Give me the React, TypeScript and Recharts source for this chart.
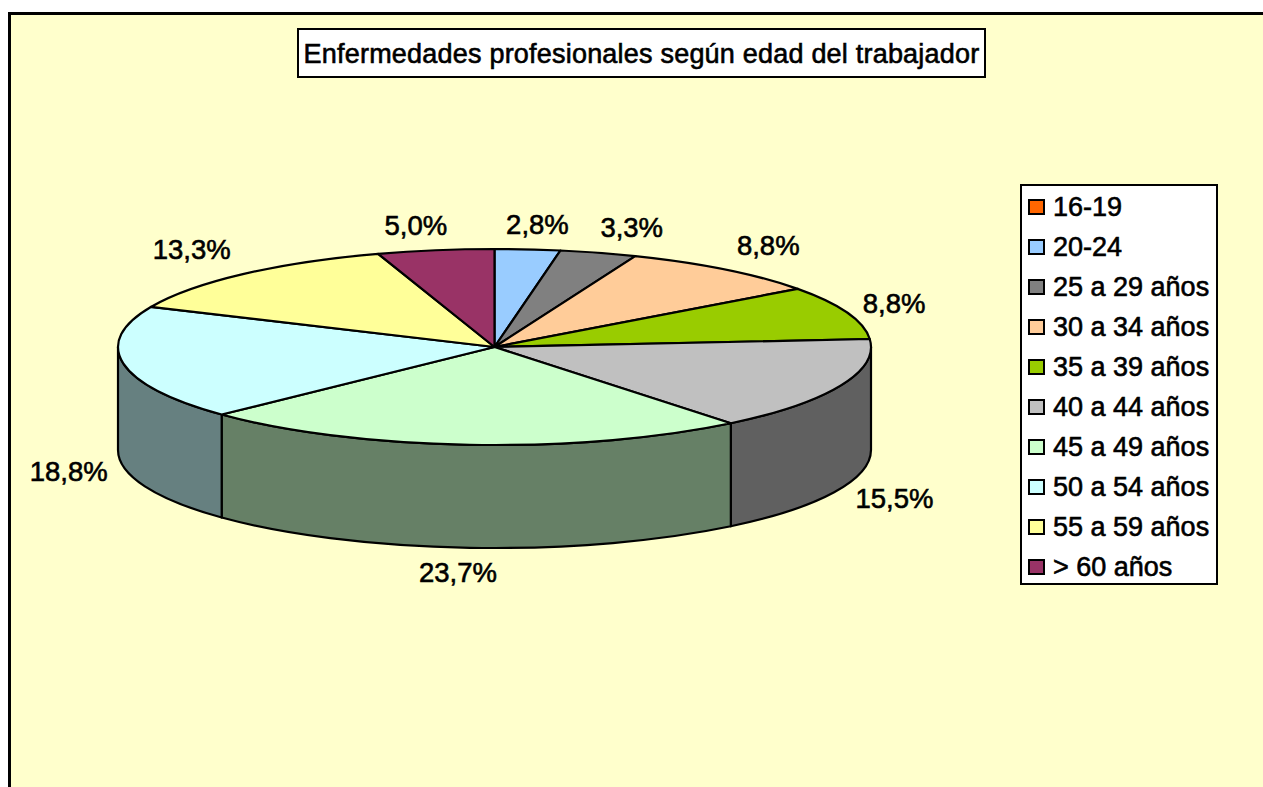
import React from "react";
import { PieChart, Pie, Legend } from "recharts";

const title = "Enfermedades profesionales según edad del trabajador";
const categories = ["16-19", "20-24", "25 a 29 años", "30 a 34 años", "35 a 39 años", "40 a 44 años", "45 a 49 años", "50 a 54 años", "55 a 59 años", "> 60 años"];
const shares = [0, 2.8, 3.3, 8.8, 8.8, 15.5, 23.7, 18.8, 13.3, 5.0];
const colours = ["#FF6600", "#99CCFF", "#808080", "#FFCC99", "#99CC00", "#C0C0C0", "#CCFFCC", "#CCFFFF", "#FFFF99", "#993366"];

const rows = categories.map((name, i) => ({ name, value: shares[i], fill: colours[i] }));

const FONT = "'Liberation Sans', Arial, sans-serif";
const TILT = 98 / 376.5;
const DEPTH = 103;
// small hand adjustments of the label placement, as in the reference (dx, dy by slice)
const LABEL_NUDGE: [number, number][] = [[0, 0], [5, 1], [18, 0], [9, -4], [-5, 0], [3, 0], [-8, -1], [0, 1], [-14, -5], [-11, 1]];

function darken(hex: string) {
  const n = parseInt(hex.slice(1), 16);
  const c = [(n >> 16) & 255, (n >> 8) & 255, n & 255].map((v) => Math.round(v / 2));
  return `rgb(${c[0]},${c[1]},${c[2]})`;
}

function Slice(props: any) {
  const { cx, cy, outerRadius, startAngle, endAngle, fill } = props;
  if (Math.abs(startAngle - endAngle) < 1e-6) return null;
  const rx = outerRadius;
  const ry = outerRadius * TILT;
  const t1 = 90 - startAngle;
  const t2 = 90 - endAngle;
  const rim = (t: number, dy = 0) => {
    const r = (t * Math.PI) / 180;
    return `${cx + rx * Math.sin(r)} ${cy - ry * Math.cos(r) + dy}`;
  };
  const large = t2 - t1 > 180 ? 1 : 0;
  const s = Math.max(t1, 90);
  const e = Math.min(t2, 270);
  return (
    <g>
      {s < e && (
        <path
          d={`M ${rim(s)} A ${rx} ${ry} 0 0 1 ${rim(e)} L ${rim(e, DEPTH)} A ${rx} ${ry} 0 0 0 ${rim(s, DEPTH)} Z`}
          fill={darken(fill)}
          stroke="#000"
          strokeWidth={2.2}
          strokeLinejoin="round"
        />
      )}
      <path
        d={`M ${cx} ${cy} L ${rim(t1)} A ${rx} ${ry} 0 ${large} 1 ${rim(t2)} Z`}
        fill={fill}
        stroke="#000"
        strokeWidth={2.2}
        strokeLinejoin="round"
      />
    </g>
  );
}

function SliceLabel(props: any) {
  const { cx, cy, midAngle, value, index } = props;
  if (!value) return null;
  const t = ((90 - midAngle) * Math.PI) / 180;
  const [dx, dy] = LABEL_NUDGE[index] ?? [0, 0];
  const x = cx + 432 * Math.sin(t) + dx;
  const lower = Math.cos(t) < 0;
  const y = cy - 124 * Math.cos(t) + (lower ? DEPTH : 0) + dy;
  return (
    <text
      x={x}
      y={y}
      textAnchor="middle"
      dominantBaseline="central"
      fontFamily={FONT}
      fontSize={27.5}
      fill="#000"
      stroke="#000"
      strokeWidth={0.6}
    >
      {value.toFixed(1).replace(".", ",")}%
    </text>
  );
}

function LegendBox(props: any) {
  const items = props.payload ?? [];
  return (
    <div
      style={{
        boxSizing: "border-box",
        width: 198,
        height: 401,
        background: "#fff",
        border: "2px solid #000",
        paddingTop: 1,
        fontFamily: FONT,
        fontSize: 27,
        color: "#000",
        WebkitTextStroke: "0.6px #000",
      }}
    >
      {items.map((it: any) => (
        <div key={it.value} style={{ display: "flex", alignItems: "center", height: 40, lineHeight: "40px", whiteSpace: "nowrap" }}>
          <span
            style={{
              boxSizing: "border-box",
              display: "inline-block",
              width: 17,
              height: 16,
              marginLeft: 6,
              marginRight: 8,
              background: it.color,
              border: "2px solid #000",
            }}
          />
          {it.value}
        </div>
      ))}
    </div>
  );
}

export default function App() {
  return (
    <div style={{ position: "absolute", left: 0, top: 0, width: 1263, height: 787, overflow: "hidden", background: "#fff" }}>
      <div
        style={{
          position: "absolute",
          left: 8,
          top: 12,
          width: 1300,
          height: 820,
          background: "#FFFFCC",
          border: "3px solid #000",
        }}
      />
      <div
        style={{
          position: "absolute",
          left: 297,
          top: 28,
          boxSizing: "border-box",
          width: 689,
          height: 50,
          background: "#fff",
          border: "2px solid #000",
          fontFamily: FONT,
          fontSize: 27,
          letterSpacing: 0.21,
          lineHeight: "49px",
          textAlign: "center",
          whiteSpace: "nowrap",
          color: "#000",
          WebkitTextStroke: "0.6px #000",
        }}
      >
        {title}
      </div>
      <div style={{ position: "absolute", left: 0, top: 0 }}>
        <PieChart width={1263} height={787} margin={{ top: 0, right: 0, bottom: 0, left: 0 }}>
          <Pie
            data={rows}
            dataKey="value"
            nameKey="name"
            cx={494.5}
            cy={347}
            innerRadius={0}
            outerRadius={376.5}
            startAngle={90}
            endAngle={-270}
            stroke="#000"
            shape={Slice}
            label={SliceLabel}
            labelLine={false}
            isAnimationActive={false}
          />
          <Legend
            content={LegendBox}
            layout="vertical"
            wrapperStyle={{ position: "absolute", left: 1020, top: 184, width: 198, height: 401 }}
          />
        </PieChart>
      </div>
    </div>
  );
}
